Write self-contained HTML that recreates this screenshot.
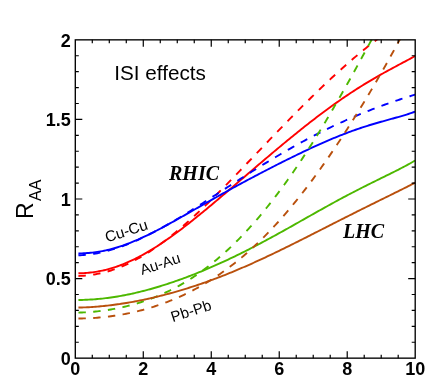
<!DOCTYPE html>
<html><head><meta charset="utf-8"><title>ISI effects</title>
<style>
html,body{margin:0;padding:0;background:#fff;}
body{width:436px;height:379px;overflow:hidden;font-family:"Liberation Sans",sans-serif;}
svg{display:block;}
svg text{font-family:"Liberation Sans",sans-serif;fill:#000;}
svg text.serif{font-family:"Liberation Serif",serif;font-weight:bold;font-style:italic;}
</style></head><body>
<svg width="436" height="379" viewBox="0 0 436 379">
<rect x="0" y="0" width="436" height="379" fill="#ffffff"/>
<defs><clipPath id="clip"><rect x="75.3" y="39.85" width="339.9" height="318.3"/></clipPath></defs>
<g clip-path="url(#clip)" fill="none" stroke-width="1.9" stroke-linecap="butt" stroke-linejoin="round">
<path d="M78.43 273.32 L80.30 273.27 L82.00 273.20 L83.70 273.11 L85.40 273.00 L87.10 272.87 L88.80 272.71 L90.50 272.53 L92.20 272.33 L93.89 272.10 L95.59 271.85 L97.29 271.57 L98.99 271.27 L100.69 270.94 L102.39 270.59 L104.09 270.21 L105.79 269.80 L107.49 269.37 L109.19 268.91 L110.89 268.43 L112.59 267.92 L114.29 267.39 L115.99 266.83 L117.69 266.24 L119.39 265.63 L121.09 265.00 L122.79 264.34 L124.49 263.65 L126.19 262.94 L127.88 262.21 L129.58 261.45 L131.28 260.67 L132.98 259.87 L134.68 259.04 L136.38 258.20 L138.08 257.33 L139.78 256.43 L141.48 255.52 L143.18 254.59 L144.88 253.63 L146.58 252.66 L148.28 251.67 L149.98 250.66 L151.68 249.63 L153.38 248.58 L155.08 247.51 L156.78 246.43 L158.48 245.33 L160.18 244.21 L161.87 243.08 L163.57 241.93 L165.27 240.76 L166.97 239.58 L168.67 238.39 L170.37 237.19 L172.07 235.97 L173.77 234.73 L175.47 233.49 L177.17 232.23 L178.87 230.96 L180.57 229.68 L182.27 228.39 L183.97 227.09 L185.67 225.78 L187.37 224.46 L189.07 223.13 L190.77 221.79 L192.47 220.44 L194.17 219.09 L195.86 217.73 L197.56 216.36 L199.26 214.98 L200.96 213.59 L202.66 212.20 L204.36 210.81 L206.06 209.41 L207.76 208.00 L209.46 206.59 L211.16 205.17 L212.86 203.75 L214.56 202.32 L216.26 200.89 L217.96 199.46 L219.66 198.02 L221.36 196.58 L223.06 195.14 L224.76 193.69 L226.46 192.24 L228.16 190.80 L229.85 189.34 L231.55 187.89 L233.25 186.44 L234.95 184.98 L236.65 183.52 L238.35 182.07 L240.05 180.61 L241.75 179.15 L243.45 177.69 L245.15 176.23 L246.85 174.77 L248.55 173.32 L250.25 171.86 L251.95 170.40 L253.65 168.95 L255.35 167.49 L257.05 166.04 L258.75 164.59 L260.45 163.14 L262.15 161.69 L263.84 160.25 L265.54 158.80 L267.24 157.36 L268.94 155.92 L270.64 154.49 L272.34 153.06 L274.04 151.63 L275.74 150.20 L277.44 148.78 L279.14 147.36 L280.84 145.94 L282.54 144.53 L284.24 143.12 L285.94 141.72 L287.64 140.32 L289.34 138.92 L291.04 137.53 L292.74 136.14 L294.44 134.76 L296.14 133.39 L297.83 132.02 L299.53 130.65 L301.23 129.29 L302.93 127.94 L304.63 126.59 L306.33 125.25 L308.03 123.92 L309.73 122.59 L311.43 121.27 L313.13 119.95 L314.83 118.65 L316.53 117.34 L318.23 116.05 L319.93 114.77 L321.63 113.49 L323.33 112.22 L325.03 110.96 L326.73 109.70 L328.43 108.46 L330.13 107.22 L331.82 105.99 L333.52 104.77 L335.22 103.56 L336.92 102.36 L338.62 101.16 L340.32 99.98 L342.02 98.80 L343.72 97.64 L345.42 96.48 L347.12 95.34 L348.82 94.20 L350.52 93.07 L352.22 91.96 L353.92 90.85 L355.62 89.75 L357.32 88.66 L359.02 87.59 L360.72 86.52 L362.42 85.46 L364.12 84.41 L365.81 83.37 L367.51 82.34 L369.21 81.32 L370.91 80.31 L372.61 79.31 L374.31 78.32 L376.01 77.34 L377.71 76.36 L379.41 75.39 L381.11 74.43 L382.81 73.48 L384.51 72.54 L386.21 71.60 L387.91 70.66 L389.61 69.74 L391.31 68.82 L393.01 67.90 L394.71 66.98 L396.41 66.07 L398.11 65.17 L399.80 64.26 L401.50 63.36 L403.20 62.45 L404.90 61.54 L406.60 60.64 L408.30 59.72 L410.00 58.81 L411.70 57.89 L413.40 56.96 L415.10 56.02" stroke="#ff0000"/>
<path d="M78.43 275.99 L80.30 275.92 L82.00 275.84 L83.70 275.73 L85.40 275.60 L87.10 275.44 L88.80 275.25 L90.50 275.04 L92.20 274.81 L93.89 274.54 L95.59 274.26 L97.29 273.94 L98.99 273.60 L100.69 273.23 L102.39 272.84 L104.09 272.42 L105.79 271.97 L107.49 271.50 L109.19 271.00 L110.89 270.47 L112.59 269.92 L114.29 269.34 L115.99 268.74 L117.69 268.11 L119.39 267.45 L121.09 266.76 L122.79 266.06 L124.49 265.32 L126.19 264.56 L127.88 263.77 L129.58 262.96 L131.28 262.12 L132.98 261.26 L134.68 260.38 L136.38 259.46 L138.08 258.53 L139.78 257.57 L141.48 256.59 L143.18 255.58 L144.88 254.55 L146.58 253.50 L148.28 252.43 L149.98 251.33 L151.68 250.21 L153.38 249.07 L155.08 247.91 L156.78 246.72 L158.48 245.52 L160.18 244.29 L161.87 243.05 L163.57 241.79 L165.27 240.50 L166.97 239.20 L168.67 237.88 L170.37 236.54 L172.07 235.18 L173.77 233.81 L175.47 232.41 L177.17 231.01 L178.87 229.58 L180.57 228.14 L182.27 226.68 L183.97 225.21 L185.67 223.72 L187.37 222.22 L189.07 220.71 L190.77 219.18 L192.47 217.64 L194.17 216.08 L195.86 214.51 L197.56 212.93 L199.26 211.34 L200.96 209.74 L202.66 208.12 L204.36 206.50 L206.06 204.86 L207.76 203.22 L209.46 201.57 L211.16 199.90 L212.86 198.23 L214.56 196.55 L216.26 194.86 L217.96 193.17 L219.66 191.46 L221.36 189.76 L223.06 188.04 L224.76 186.32 L226.46 184.59 L228.16 182.86 L229.85 181.12 L231.55 179.38 L233.25 177.63 L234.95 175.88 L236.65 174.12 L238.35 172.36 L240.05 170.60 L241.75 168.84 L243.45 167.07 L245.15 165.30 L246.85 163.53 L248.55 161.76 L250.25 159.98 L251.95 158.21 L253.65 156.43 L255.35 154.66 L257.05 152.88 L258.75 151.10 L260.45 149.33 L262.15 147.55 L263.84 145.78 L265.54 144.01 L267.24 142.23 L268.94 140.46 L270.64 138.69 L272.34 136.93 L274.04 135.16 L275.74 133.40 L277.44 131.64 L279.14 129.88 L280.84 128.13 L282.54 126.38 L284.24 124.63 L285.94 122.89 L287.64 121.15 L289.34 119.41 L291.04 117.68 L292.74 115.96 L294.44 114.23 L296.14 112.52 L297.83 110.80 L299.53 109.09 L301.23 107.39 L302.93 105.69 L304.63 104.00 L306.33 102.31 L308.03 100.63 L309.73 98.96 L311.43 97.29 L313.13 95.63 L314.83 93.97 L316.53 92.32 L318.23 90.68 L319.93 89.05 L321.63 87.42 L323.33 85.80 L325.03 84.18 L326.73 82.58 L328.43 80.98 L330.13 79.39 L331.82 77.80 L333.52 76.23 L335.22 74.66 L336.92 73.11 L338.62 71.56 L340.32 70.02 L342.02 68.49 L343.72 66.97 L345.42 65.46 L347.12 63.96 L348.82 62.47 L350.52 60.99 L352.22 59.52 L353.92 58.06 L355.62 56.62 L357.32 55.18 L359.02 53.76 L360.72 52.35 L362.42 50.95 L364.12 49.57 L365.81 48.20 L367.51 46.84 L369.21 45.50 L370.91 44.17 L372.61 42.86 L374.31 41.56 L376.01 40.28 L377.71 39.02 L379.41 37.77 L381.11 36.54 L382.81 35.33 L384.51 34.14" stroke="#ff0000" stroke-dasharray="7.4 7.4"/>
<path d="M78.43 253.44 L80.30 253.40 L82.00 253.34 L83.70 253.27 L85.40 253.18 L87.10 253.06 L88.80 252.93 L90.50 252.77 L92.20 252.59 L93.89 252.39 L95.59 252.17 L97.29 251.93 L98.99 251.66 L100.69 251.37 L102.39 251.06 L104.09 250.72 L105.79 250.36 L107.49 249.98 L109.19 249.58 L110.89 249.15 L112.59 248.70 L114.29 248.23 L115.99 247.73 L117.69 247.22 L119.39 246.68 L121.09 246.12 L122.79 245.55 L124.49 244.95 L126.19 244.33 L127.88 243.70 L129.58 243.04 L131.28 242.37 L132.98 241.68 L134.68 240.97 L136.38 240.25 L138.08 239.51 L139.78 238.76 L141.48 237.99 L143.18 237.21 L144.88 236.41 L146.58 235.60 L148.28 234.78 L149.98 233.94 L151.68 233.10 L153.38 232.24 L155.08 231.37 L156.78 230.50 L158.48 229.61 L160.18 228.72 L161.87 227.82 L163.57 226.91 L165.27 225.99 L166.97 225.07 L168.67 224.14 L170.37 223.20 L172.07 222.26 L173.77 221.32 L175.47 220.37 L177.17 219.42 L178.87 218.46 L180.57 217.50 L182.27 216.54 L183.97 215.58 L185.67 214.61 L187.37 213.64 L189.07 212.68 L190.77 211.71 L192.47 210.74 L194.17 209.77 L195.86 208.79 L197.56 207.82 L199.26 206.85 L200.96 205.88 L202.66 204.92 L204.36 203.95 L206.06 202.98 L207.76 202.02 L209.46 201.05 L211.16 200.09 L212.86 199.13 L214.56 198.17 L216.26 197.22 L217.96 196.26 L219.66 195.31 L221.36 194.36 L223.06 193.42 L224.76 192.47 L226.46 191.53 L228.16 190.59 L229.85 189.65 L231.55 188.72 L233.25 187.79 L234.95 186.86 L236.65 185.94 L238.35 185.01 L240.05 184.09 L241.75 183.17 L243.45 182.26 L245.15 181.35 L246.85 180.44 L248.55 179.53 L250.25 178.63 L251.95 177.73 L253.65 176.83 L255.35 175.93 L257.05 175.04 L258.75 174.15 L260.45 173.26 L262.15 172.37 L263.84 171.49 L265.54 170.61 L267.24 169.73 L268.94 168.86 L270.64 167.98 L272.34 167.11 L274.04 166.25 L275.74 165.38 L277.44 164.52 L279.14 163.66 L280.84 162.81 L282.54 161.95 L284.24 161.10 L285.94 160.25 L287.64 159.41 L289.34 158.57 L291.04 157.73 L292.74 156.90 L294.44 156.07 L296.14 155.24 L297.83 154.41 L299.53 153.59 L301.23 152.78 L302.93 151.96 L304.63 151.16 L306.33 150.35 L308.03 149.55 L309.73 148.76 L311.43 147.97 L313.13 147.19 L314.83 146.41 L316.53 145.63 L318.23 144.86 L319.93 144.10 L321.63 143.34 L323.33 142.59 L325.03 141.85 L326.73 141.11 L328.43 140.38 L330.13 139.66 L331.82 138.94 L333.52 138.23 L335.22 137.53 L336.92 136.84 L338.62 136.15 L340.32 135.47 L342.02 134.80 L343.72 134.14 L345.42 133.49 L347.12 132.84 L348.82 132.21 L350.52 131.58 L352.22 130.96 L353.92 130.36 L355.62 129.76 L357.32 129.17 L359.02 128.58 L360.72 128.01 L362.42 127.45 L364.12 126.89 L365.81 126.35 L367.51 125.81 L369.21 125.28 L370.91 124.76 L372.61 124.24 L374.31 123.74 L376.01 123.24 L377.71 122.74 L379.41 122.25 L381.11 121.77 L382.81 121.29 L384.51 120.82 L386.21 120.35 L387.91 119.88 L389.61 119.41 L391.31 118.95 L393.01 118.48 L394.71 118.01 L396.41 117.54 L398.11 117.06 L399.80 116.58 L401.50 116.08 L403.20 115.58 L404.90 115.07 L406.60 114.55 L408.30 114.01 L410.00 113.45 L411.70 112.87 L413.40 112.27 L415.10 111.65" stroke="#0000ff"/>
<path d="M78.43 255.30 L80.30 255.23 L82.00 255.14 L83.70 255.02 L85.40 254.88 L87.10 254.71 L88.80 254.52 L90.50 254.30 L92.20 254.06 L93.89 253.80 L95.59 253.51 L97.29 253.20 L98.99 252.87 L100.69 252.52 L102.39 252.14 L104.09 251.74 L105.79 251.33 L107.49 250.89 L109.19 250.42 L110.89 249.94 L112.59 249.44 L114.29 248.92 L115.99 248.38 L117.69 247.82 L119.39 247.25 L121.09 246.65 L122.79 246.04 L124.49 245.40 L126.19 244.76 L127.88 244.09 L129.58 243.41 L131.28 242.71 L132.98 242.00 L134.68 241.27 L136.38 240.52 L138.08 239.76 L139.78 238.99 L141.48 238.20 L143.18 237.40 L144.88 236.59 L146.58 235.76 L148.28 234.92 L149.98 234.06 L151.68 233.20 L153.38 232.32 L155.08 231.43 L156.78 230.53 L158.48 229.62 L160.18 228.70 L161.87 227.77 L163.57 226.83 L165.27 225.88 L166.97 224.92 L168.67 223.95 L170.37 222.97 L172.07 221.99 L173.77 221.00 L175.47 220.00 L177.17 218.99 L178.87 217.97 L180.57 216.95 L182.27 215.92 L183.97 214.89 L185.67 213.85 L187.37 212.81 L189.07 211.76 L190.77 210.70 L192.47 209.64 L194.17 208.58 L195.86 207.51 L197.56 206.44 L199.26 205.36 L200.96 204.28 L202.66 203.20 L204.36 202.11 L206.06 201.03 L207.76 199.94 L209.46 198.85 L211.16 197.75 L212.86 196.66 L214.56 195.56 L216.26 194.46 L217.96 193.37 L219.66 192.27 L221.36 191.17 L223.06 190.07 L224.76 188.97 L226.46 187.87 L228.16 186.77 L229.85 185.68 L231.55 184.58 L233.25 183.49 L234.95 182.39 L236.65 181.30 L238.35 180.21 L240.05 179.12 L241.75 178.03 L243.45 176.95 L245.15 175.87 L246.85 174.79 L248.55 173.71 L250.25 172.64 L251.95 171.56 L253.65 170.50 L255.35 169.43 L257.05 168.37 L258.75 167.31 L260.45 166.26 L262.15 165.21 L263.84 164.17 L265.54 163.12 L267.24 162.09 L268.94 161.06 L270.64 160.03 L272.34 159.00 L274.04 157.99 L275.74 156.97 L277.44 155.96 L279.14 154.96 L280.84 153.96 L282.54 152.97 L284.24 151.98 L285.94 151.00 L287.64 150.02 L289.34 149.05 L291.04 148.09 L292.74 147.13 L294.44 146.17 L296.14 145.23 L297.83 144.28 L299.53 143.35 L301.23 142.42 L302.93 141.50 L304.63 140.58 L306.33 139.67 L308.03 138.76 L309.73 137.86 L311.43 136.97 L313.13 136.09 L314.83 135.21 L316.53 134.33 L318.23 133.47 L319.93 132.61 L321.63 131.75 L323.33 130.91 L325.03 130.07 L326.73 129.23 L328.43 128.41 L330.13 127.59 L331.82 126.77 L333.52 125.96 L335.22 125.16 L336.92 124.37 L338.62 123.58 L340.32 122.80 L342.02 122.03 L343.72 121.26 L345.42 120.50 L347.12 119.74 L348.82 119.00 L350.52 118.25 L352.22 117.52 L353.92 116.79 L355.62 116.07 L357.32 115.35 L359.02 114.64 L360.72 113.94 L362.42 113.25 L364.12 112.56 L365.81 111.87 L367.51 111.19 L369.21 110.52 L370.91 109.86 L372.61 109.20 L374.31 108.55 L376.01 107.90 L377.71 107.26 L379.41 106.63 L381.11 106.00 L382.81 105.38 L384.51 104.76 L386.21 104.15 L387.91 103.55 L389.61 102.95 L391.31 102.36 L393.01 101.77 L394.71 101.19 L396.41 100.62 L398.11 100.05 L399.80 99.48 L401.50 98.92 L403.20 98.37 L404.90 97.82 L406.60 97.28 L408.30 96.75 L410.00 96.22 L411.70 95.69 L413.40 95.17 L415.10 94.66" stroke="#0000ff" stroke-dasharray="7.4 7.4"/>
<path d="M78.43 300.00 L80.30 299.97 L82.00 299.93 L83.70 299.88 L85.40 299.82 L87.10 299.75 L88.80 299.67 L90.50 299.57 L92.20 299.46 L93.89 299.34 L95.59 299.21 L97.29 299.07 L98.99 298.91 L100.69 298.75 L102.39 298.57 L104.09 298.38 L105.79 298.18 L107.49 297.97 L109.19 297.74 L110.89 297.51 L112.59 297.26 L114.29 297.00 L115.99 296.74 L117.69 296.46 L119.39 296.17 L121.09 295.86 L122.79 295.55 L124.49 295.23 L126.19 294.90 L127.88 294.55 L129.58 294.20 L131.28 293.84 L132.98 293.47 L134.68 293.08 L136.38 292.69 L138.08 292.29 L139.78 291.87 L141.48 291.45 L143.18 291.02 L144.88 290.58 L146.58 290.13 L148.28 289.68 L149.98 289.21 L151.68 288.73 L153.38 288.25 L155.08 287.76 L156.78 287.26 L158.48 286.75 L160.18 286.23 L161.87 285.70 L163.57 285.17 L165.27 284.63 L166.97 284.08 L168.67 283.52 L170.37 282.96 L172.07 282.38 L173.77 281.80 L175.47 281.22 L177.17 280.62 L178.87 280.02 L180.57 279.41 L182.27 278.79 L183.97 278.16 L185.67 277.53 L187.37 276.89 L189.07 276.25 L190.77 275.59 L192.47 274.93 L194.17 274.27 L195.86 273.59 L197.56 272.91 L199.26 272.23 L200.96 271.53 L202.66 270.83 L204.36 270.12 L206.06 269.41 L207.76 268.69 L209.46 267.96 L211.16 267.23 L212.86 266.49 L214.56 265.74 L216.26 264.99 L217.96 264.23 L219.66 263.46 L221.36 262.69 L223.06 261.91 L224.76 261.12 L226.46 260.33 L228.16 259.54 L229.85 258.73 L231.55 257.93 L233.25 257.11 L234.95 256.29 L236.65 255.47 L238.35 254.63 L240.05 253.80 L241.75 252.95 L243.45 252.10 L245.15 251.25 L246.85 250.39 L248.55 249.53 L250.25 248.66 L251.95 247.78 L253.65 246.90 L255.35 246.02 L257.05 245.13 L258.75 244.23 L260.45 243.34 L262.15 242.43 L263.84 241.53 L265.54 240.61 L267.24 239.70 L268.94 238.78 L270.64 237.86 L272.34 236.93 L274.04 236.00 L275.74 235.07 L277.44 234.13 L279.14 233.19 L280.84 232.25 L282.54 231.30 L284.24 230.36 L285.94 229.41 L287.64 228.46 L289.34 227.50 L291.04 226.55 L292.74 225.59 L294.44 224.63 L296.14 223.68 L297.83 222.72 L299.53 221.76 L301.23 220.79 L302.93 219.83 L304.63 218.87 L306.33 217.91 L308.03 216.95 L309.73 215.99 L311.43 215.03 L313.13 214.07 L314.83 213.11 L316.53 212.16 L318.23 211.20 L319.93 210.25 L321.63 209.30 L323.33 208.35 L325.03 207.41 L326.73 206.47 L328.43 205.52 L330.13 204.59 L331.82 203.65 L333.52 202.72 L335.22 201.79 L336.92 200.87 L338.62 199.95 L340.32 199.03 L342.02 198.12 L343.72 197.21 L345.42 196.31 L347.12 195.41 L348.82 194.51 L350.52 193.62 L352.22 192.73 L353.92 191.85 L355.62 190.97 L357.32 190.10 L359.02 189.23 L360.72 188.36 L362.42 187.50 L364.12 186.64 L365.81 185.79 L367.51 184.94 L369.21 184.09 L370.91 183.24 L372.61 182.40 L374.31 181.56 L376.01 180.73 L377.71 179.89 L379.41 179.05 L381.11 178.22 L382.81 177.39 L384.51 176.55 L386.21 175.72 L387.91 174.88 L389.61 174.04 L391.31 173.20 L393.01 172.35 L394.71 171.50 L396.41 170.65 L398.11 169.78 L399.80 168.91 L401.50 168.03 L403.20 167.14 L404.90 166.24 L406.60 165.33 L408.30 164.40 L410.00 163.46 L411.70 162.50 L413.40 161.52 L415.10 160.52" stroke="#4db800"/>
<path d="M78.43 312.58 L80.30 312.54 L82.00 312.48 L83.70 312.42 L85.40 312.33 L87.10 312.24 L88.80 312.13 L90.50 312.00 L92.20 311.86 L93.89 311.71 L95.59 311.55 L97.29 311.37 L98.99 311.18 L100.69 310.97 L102.39 310.76 L104.09 310.53 L105.79 310.28 L107.49 310.03 L109.19 309.76 L110.89 309.47 L112.59 309.18 L114.29 308.87 L115.99 308.55 L117.69 308.21 L119.39 307.86 L121.09 307.50 L122.79 307.12 L124.49 306.73 L126.19 306.33 L127.88 305.91 L129.58 305.47 L131.28 305.03 L132.98 304.56 L134.68 304.09 L136.38 303.59 L138.08 303.09 L139.78 302.56 L141.48 302.02 L143.18 301.47 L144.88 300.90 L146.58 300.31 L148.28 299.71 L149.98 299.09 L151.68 298.45 L153.38 297.80 L155.08 297.12 L156.78 296.44 L158.48 295.73 L160.18 295.00 L161.87 294.26 L163.57 293.50 L165.27 292.72 L166.97 291.93 L168.67 291.11 L170.37 290.27 L172.07 289.42 L173.77 288.55 L175.47 287.65 L177.17 286.74 L178.87 285.81 L180.57 284.85 L182.27 283.88 L183.97 282.89 L185.67 281.87 L187.37 280.84 L189.07 279.78 L190.77 278.71 L192.47 277.61 L194.17 276.49 L195.86 275.35 L197.56 274.19 L199.26 273.00 L200.96 271.80 L202.66 270.57 L204.36 269.32 L206.06 268.05 L207.76 266.76 L209.46 265.44 L211.16 264.10 L212.86 262.74 L214.56 261.36 L216.26 259.95 L217.96 258.52 L219.66 257.07 L221.36 255.60 L223.06 254.10 L224.76 252.58 L226.46 251.03 L228.16 249.47 L229.85 247.88 L231.55 246.26 L233.25 244.63 L234.95 242.97 L236.65 241.28 L238.35 239.58 L240.05 237.85 L241.75 236.09 L243.45 234.32 L245.15 232.52 L246.85 230.69 L248.55 228.85 L250.25 226.98 L251.95 225.08 L253.65 223.17 L255.35 221.23 L257.05 219.26 L258.75 217.28 L260.45 215.27 L262.15 213.23 L263.84 211.17 L265.54 209.09 L267.24 206.99 L268.94 204.86 L270.64 202.72 L272.34 200.54 L274.04 198.35 L275.74 196.13 L277.44 193.89 L279.14 191.62 L280.84 189.34 L282.54 187.03 L284.24 184.70 L285.94 182.35 L287.64 179.97 L289.34 177.57 L291.04 175.15 L292.74 172.71 L294.44 170.25 L296.14 167.76 L297.83 165.26 L299.53 162.73 L301.23 160.18 L302.93 157.61 L304.63 155.02 L306.33 152.41 L308.03 149.78 L309.73 147.13 L311.43 144.45 L313.13 141.76 L314.83 139.05 L316.53 136.32 L318.23 133.57 L319.93 130.80 L321.63 128.02 L323.33 125.21 L325.03 122.39 L326.73 119.55 L328.43 116.69 L330.13 113.82 L331.82 110.93 L333.52 108.02 L335.22 105.10 L336.92 102.16 L338.62 99.20 L340.32 96.24 L342.02 93.25 L343.72 90.26 L345.42 87.25 L347.12 84.23 L348.82 81.20 L350.52 78.15 L352.22 75.10 L353.92 72.03 L355.62 68.95 L357.32 65.87 L359.02 62.78 L360.72 59.68 L362.42 56.57 L364.12 53.46 L365.81 50.34 L367.51 47.22 L369.21 44.10 L370.91 40.97 L372.61 37.84 L374.31 34.71" stroke="#4db800" stroke-dasharray="7.4 7.4"/>
<path d="M78.43 307.54 L80.30 307.51 L82.00 307.46 L83.70 307.41 L85.40 307.35 L87.10 307.27 L88.80 307.19 L90.50 307.09 L92.20 306.99 L93.89 306.87 L95.59 306.75 L97.29 306.62 L98.99 306.47 L100.69 306.32 L102.39 306.16 L104.09 305.99 L105.79 305.81 L107.49 305.62 L109.19 305.42 L110.89 305.22 L112.59 305.00 L114.29 304.78 L115.99 304.55 L117.69 304.31 L119.39 304.07 L121.09 303.81 L122.79 303.55 L124.49 303.28 L126.19 303.01 L127.88 302.72 L129.58 302.43 L131.28 302.13 L132.98 301.83 L134.68 301.51 L136.38 301.19 L138.08 300.86 L139.78 300.53 L141.48 300.18 L143.18 299.83 L144.88 299.48 L146.58 299.11 L148.28 298.74 L149.98 298.36 L151.68 297.98 L153.38 297.59 L155.08 297.19 L156.78 296.78 L158.48 296.37 L160.18 295.95 L161.87 295.52 L163.57 295.09 L165.27 294.65 L166.97 294.20 L168.67 293.75 L170.37 293.29 L172.07 292.82 L173.77 292.34 L175.47 291.86 L177.17 291.37 L178.87 290.88 L180.57 290.38 L182.27 289.87 L183.97 289.35 L185.67 288.83 L187.37 288.30 L189.07 287.77 L190.77 287.22 L192.47 286.68 L194.17 286.12 L195.86 285.56 L197.56 284.99 L199.26 284.41 L200.96 283.83 L202.66 283.24 L204.36 282.65 L206.06 282.05 L207.76 281.44 L209.46 280.82 L211.16 280.20 L212.86 279.58 L214.56 278.94 L216.26 278.30 L217.96 277.66 L219.66 277.00 L221.36 276.35 L223.06 275.68 L224.76 275.01 L226.46 274.33 L228.16 273.65 L229.85 272.96 L231.55 272.27 L233.25 271.57 L234.95 270.86 L236.65 270.15 L238.35 269.44 L240.05 268.71 L241.75 267.99 L243.45 267.25 L245.15 266.51 L246.85 265.77 L248.55 265.02 L250.25 264.27 L251.95 263.51 L253.65 262.75 L255.35 261.98 L257.05 261.21 L258.75 260.43 L260.45 259.65 L262.15 258.86 L263.84 258.07 L265.54 257.28 L267.24 256.48 L268.94 255.68 L270.64 254.87 L272.34 254.06 L274.04 253.25 L275.74 252.43 L277.44 251.61 L279.14 250.79 L280.84 249.96 L282.54 249.13 L284.24 248.30 L285.94 247.47 L287.64 246.63 L289.34 245.79 L291.04 244.95 L292.74 244.10 L294.44 243.26 L296.14 242.41 L297.83 241.56 L299.53 240.70 L301.23 239.85 L302.93 238.99 L304.63 238.14 L306.33 237.28 L308.03 236.42 L309.73 235.56 L311.43 234.70 L313.13 233.83 L314.83 232.97 L316.53 232.11 L318.23 231.24 L319.93 230.38 L321.63 229.52 L323.33 228.65 L325.03 227.79 L326.73 226.92 L328.43 226.06 L330.13 225.19 L331.82 224.33 L333.52 223.47 L335.22 222.61 L336.92 221.74 L338.62 220.88 L340.32 220.02 L342.02 219.16 L343.72 218.30 L345.42 217.45 L347.12 216.59 L348.82 215.73 L350.52 214.88 L352.22 214.03 L353.92 213.17 L355.62 212.32 L357.32 211.47 L359.02 210.62 L360.72 209.77 L362.42 208.93 L364.12 208.08 L365.81 207.24 L367.51 206.40 L369.21 205.55 L370.91 204.71 L372.61 203.87 L374.31 203.03 L376.01 202.19 L377.71 201.35 L379.41 200.52 L381.11 199.68 L382.81 198.84 L384.51 198.00 L386.21 197.17 L387.91 196.33 L389.61 195.49 L391.31 194.65 L393.01 193.81 L394.71 192.97 L396.41 192.13 L398.11 191.29 L399.80 190.44 L401.50 189.60 L403.20 188.75 L404.90 187.89 L406.60 187.04 L408.30 186.18 L410.00 185.32 L411.70 184.45 L413.40 183.58 L415.10 182.70" stroke="#b9500d"/>
<path d="M78.43 318.51 L80.30 318.48 L82.00 318.45 L83.70 318.41 L85.40 318.36 L87.10 318.29 L88.80 318.22 L90.50 318.14 L92.20 318.05 L93.89 317.94 L95.59 317.83 L97.29 317.70 L98.99 317.56 L100.69 317.41 L102.39 317.25 L104.09 317.08 L105.79 316.90 L107.49 316.70 L109.19 316.50 L110.89 316.28 L112.59 316.05 L114.29 315.81 L115.99 315.55 L117.69 315.28 L119.39 315.01 L121.09 314.72 L122.79 314.41 L124.49 314.10 L126.19 313.77 L127.88 313.43 L129.58 313.08 L131.28 312.71 L132.98 312.33 L134.68 311.94 L136.38 311.54 L138.08 311.12 L139.78 310.70 L141.48 310.25 L143.18 309.80 L144.88 309.33 L146.58 308.85 L148.28 308.36 L149.98 307.85 L151.68 307.33 L153.38 306.80 L155.08 306.25 L156.78 305.69 L158.48 305.11 L160.18 304.53 L161.87 303.92 L163.57 303.31 L165.27 302.68 L166.97 302.03 L168.67 301.37 L170.37 300.70 L172.07 300.01 L173.77 299.31 L175.47 298.59 L177.17 297.86 L178.87 297.11 L180.57 296.35 L182.27 295.57 L183.97 294.77 L185.67 293.96 L187.37 293.14 L189.07 292.29 L190.77 291.43 L192.47 290.56 L194.17 289.67 L195.86 288.76 L197.56 287.84 L199.26 286.89 L200.96 285.94 L202.66 284.96 L204.36 283.97 L206.06 282.95 L207.76 281.93 L209.46 280.88 L211.16 279.81 L212.86 278.73 L214.56 277.63 L216.26 276.51 L217.96 275.37 L219.66 274.21 L221.36 273.03 L223.06 271.84 L224.76 270.62 L226.46 269.39 L228.16 268.13 L229.85 266.86 L231.55 265.56 L233.25 264.25 L234.95 262.91 L236.65 261.56 L238.35 260.18 L240.05 258.79 L241.75 257.37 L243.45 255.93 L245.15 254.48 L246.85 253.00 L248.55 251.50 L250.25 249.98 L251.95 248.44 L253.65 246.87 L255.35 245.29 L257.05 243.68 L258.75 242.06 L260.45 240.41 L262.15 238.74 L263.84 237.05 L265.54 235.34 L267.24 233.60 L268.94 231.85 L270.64 230.07 L272.34 228.27 L274.04 226.45 L275.74 224.61 L277.44 222.75 L279.14 220.86 L280.84 218.96 L282.54 217.03 L284.24 215.08 L285.94 213.11 L287.64 211.12 L289.34 209.11 L291.04 207.08 L292.74 205.02 L294.44 202.95 L296.14 200.86 L297.83 198.74 L299.53 196.61 L301.23 194.45 L302.93 192.28 L304.63 190.08 L306.33 187.87 L308.03 185.63 L309.73 183.38 L311.43 181.10 L313.13 178.81 L314.83 176.50 L316.53 174.17 L318.23 171.82 L319.93 169.45 L321.63 167.06 L323.33 164.66 L325.03 162.24 L326.73 159.80 L328.43 157.34 L330.13 154.86 L331.82 152.37 L333.52 149.86 L335.22 147.34 L336.92 144.79 L338.62 142.23 L340.32 139.66 L342.02 137.07 L343.72 134.46 L345.42 131.83 L347.12 129.19 L348.82 126.54 L350.52 123.87 L352.22 121.18 L353.92 118.48 L355.62 115.76 L357.32 113.03 L359.02 110.28 L360.72 107.51 L362.42 104.74 L364.12 101.94 L365.81 99.13 L367.51 96.31 L369.21 93.47 L370.91 90.62 L372.61 87.74 L374.31 84.86 L376.01 81.96 L377.71 79.04 L379.41 76.10 L381.11 73.15 L382.81 70.19 L384.51 67.20 L386.21 64.20 L387.91 61.18 L389.61 58.14 L391.31 55.08 L393.01 52.00 L394.71 48.91 L396.41 45.79 L398.11 42.65 L399.80 39.49 L401.50 36.30 L403.20 33.10" stroke="#b9500d" stroke-dasharray="7.4 7.4"/>
</g>
<rect x="75.3" y="39.85" width="339.9" height="318.3" fill="none" stroke="#000" stroke-width="1.35"/>
<path d="M92.29 358.15 v-3.50 M92.29 39.85 v3.50 M109.29 358.15 v-3.50 M109.29 39.85 v3.50 M126.28 358.15 v-3.50 M126.28 39.85 v3.50 M143.28 358.15 v-7.00 M143.28 39.85 v7.00 M160.27 358.15 v-3.50 M160.27 39.85 v3.50 M177.27 358.15 v-3.50 M177.27 39.85 v3.50 M194.26 358.15 v-3.50 M194.26 39.85 v3.50 M211.26 358.15 v-7.00 M211.26 39.85 v7.00 M228.25 358.15 v-3.50 M228.25 39.85 v3.50 M245.25 358.15 v-3.50 M245.25 39.85 v3.50 M262.24 358.15 v-3.50 M262.24 39.85 v3.50 M279.24 358.15 v-7.00 M279.24 39.85 v7.00 M296.23 358.15 v-3.50 M296.23 39.85 v3.50 M313.23 358.15 v-3.50 M313.23 39.85 v3.50 M330.22 358.15 v-3.50 M330.22 39.85 v3.50 M347.22 358.15 v-7.00 M347.22 39.85 v7.00 M364.21 358.15 v-3.50 M364.21 39.85 v3.50 M381.21 358.15 v-3.50 M381.21 39.85 v3.50 M398.20 358.15 v-3.50 M398.20 39.85 v3.50 M75.30 342.23 h3.50 M415.20 342.23 h-3.50 M75.30 326.32 h3.50 M415.20 326.32 h-3.50 M75.30 310.40 h3.50 M415.20 310.40 h-3.50 M75.30 294.49 h3.50 M415.20 294.49 h-3.50 M75.30 278.57 h7.00 M415.20 278.57 h-7.00 M75.30 262.66 h3.50 M415.20 262.66 h-3.50 M75.30 246.74 h3.50 M415.20 246.74 h-3.50 M75.30 230.83 h3.50 M415.20 230.83 h-3.50 M75.30 214.91 h3.50 M415.20 214.91 h-3.50 M75.30 199.00 h7.00 M415.20 199.00 h-7.00 M75.30 183.08 h3.50 M415.20 183.08 h-3.50 M75.30 167.17 h3.50 M415.20 167.17 h-3.50 M75.30 151.25 h3.50 M415.20 151.25 h-3.50 M75.30 135.34 h3.50 M415.20 135.34 h-3.50 M75.30 119.43 h7.00 M415.20 119.43 h-7.00 M75.30 103.51 h3.50 M415.20 103.51 h-3.50 M75.30 87.59 h3.50 M415.20 87.59 h-3.50 M75.30 71.68 h3.50 M415.20 71.68 h-3.50 M75.30 55.76 h3.50 M415.20 55.76 h-3.50" stroke="#000" stroke-width="1.2" fill="none"/>
<g opacity="0.999">
<g font-size="18" font-weight="bold"><text x="75.30" y="375.0" text-anchor="middle">0</text><text x="143.28" y="375.0" text-anchor="middle">2</text><text x="211.26" y="375.0" text-anchor="middle">4</text><text x="279.24" y="375.0" text-anchor="middle">6</text><text x="347.22" y="375.0" text-anchor="middle">8</text><text x="415.20" y="375.0" text-anchor="middle">10</text><text x="70.8" y="364.80" text-anchor="end">0</text><text x="70.8" y="285.22" text-anchor="end">0.5</text><text x="70.8" y="205.65" text-anchor="end">1</text><text x="70.8" y="126.08" text-anchor="end">1.5</text><text x="70.8" y="46.50" text-anchor="end">2</text></g>
<text x="114.3" y="79.9" font-size="20.7">ISI effects</text>
<text class="serif" x="169" y="180" font-size="20">RHIC</text>
<text class="serif" x="343" y="238" font-size="20">LHC</text>
<text font-size="15.2" transform="translate(107.0 242.6) rotate(-18)">Cu-Cu</text>
<text font-size="15" transform="translate(141.9 275.1) rotate(-18)">Au-Au</text>
<text font-size="15" transform="translate(172.7 322.2) rotate(-18)">Pb-Pb</text>
<text font-size="23" transform="translate(33 218.9) rotate(-90)">R</text>
<text font-size="16" transform="translate(41.2 201) rotate(-90)">AA</text>
</g>
</svg>
</body></html>
